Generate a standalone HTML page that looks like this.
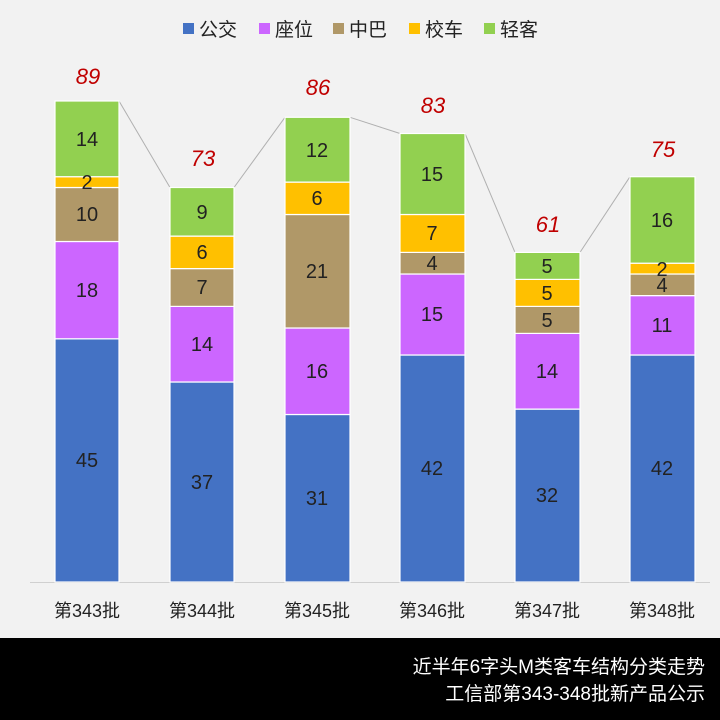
<!DOCTYPE html>
<html><head><meta charset="utf-8"><style>
body{margin:0;background:#f2f2f2}
svg{display:block}
text{font-family:"Liberation Sans","Noto Sans CJK SC",sans-serif}
</style></head><body>
<svg width="720" height="720" viewBox="0 0 720 720" xmlns="http://www.w3.org/2000/svg">
<rect width="720" height="720" fill="#f2f2f2"/>
<g font-size="19" fill="#222">
<rect x="183" y="23" width="11" height="11" fill="#4472C4"/><text x="199" y="36">公交</text>
<rect x="259" y="23" width="11" height="11" fill="#CC66FF"/><text x="275" y="36">座位</text>
<rect x="333" y="23" width="11" height="11" fill="#B09868"/><text x="349" y="36">中巴</text>
<rect x="409" y="23" width="11" height="11" fill="#FFC000"/><text x="425" y="36">校车</text>
<rect x="484" y="23" width="11" height="11" fill="#92D050"/><text x="500" y="36">轻客</text>
</g>
<polyline points="119,101 170,187.5" stroke="#b0b0b0" fill="none"/>
<polyline points="234,187.5 285,117.3" stroke="#b0b0b0" fill="none"/>
<polyline points="350,117.3 400,133.5" stroke="#b0b0b0" fill="none"/>
<polyline points="465,133.5 515,252.4" stroke="#b0b0b0" fill="none"/>
<polyline points="580,252.4 630,176.7" stroke="#b0b0b0" fill="none"/>
<line x1="30" y1="582.5" x2="710" y2="582.5" stroke="#d0d0d0"/>
<g stroke="#fff" stroke-width="1.2">
<rect x="55" y="338.8" width="64" height="243.2" fill="#4472C4"/>
<rect x="55" y="241.5" width="64" height="97.3" fill="#CC66FF"/>
<rect x="55" y="187.5" width="64" height="54" fill="#B09868"/>
<rect x="55" y="176.7" width="64" height="10.8" fill="#FFC000"/>
<rect x="55" y="101" width="64" height="75.7" fill="#92D050"/>
<rect x="170" y="382" width="64" height="200" fill="#4472C4"/>
<rect x="170" y="306.4" width="64" height="75.6" fill="#CC66FF"/>
<rect x="170" y="268.6" width="64" height="37.8" fill="#B09868"/>
<rect x="170" y="236.1" width="64" height="32.5" fill="#FFC000"/>
<rect x="170" y="187.5" width="64" height="48.6" fill="#92D050"/>
<rect x="285" y="414.5" width="65" height="167.5" fill="#4472C4"/>
<rect x="285" y="328" width="65" height="86.5" fill="#CC66FF"/>
<rect x="285" y="214.5" width="65" height="113.5" fill="#B09868"/>
<rect x="285" y="182.1" width="65" height="32.4" fill="#FFC000"/>
<rect x="285" y="117.3" width="65" height="64.8" fill="#92D050"/>
<rect x="400" y="355" width="65" height="227" fill="#4472C4"/>
<rect x="400" y="274" width="65" height="81" fill="#CC66FF"/>
<rect x="400" y="252.4" width="65" height="21.6" fill="#B09868"/>
<rect x="400" y="214.5" width="65" height="37.9" fill="#FFC000"/>
<rect x="400" y="133.5" width="65" height="81" fill="#92D050"/>
<rect x="515" y="409.1" width="65" height="172.9" fill="#4472C4"/>
<rect x="515" y="333.4" width="65" height="75.7" fill="#CC66FF"/>
<rect x="515" y="306.4" width="65" height="27" fill="#B09868"/>
<rect x="515" y="279.4" width="65" height="27" fill="#FFC000"/>
<rect x="515" y="252.4" width="65" height="27" fill="#92D050"/>
<rect x="630" y="355" width="65" height="227" fill="#4472C4"/>
<rect x="630" y="295.6" width="65" height="59.4" fill="#CC66FF"/>
<rect x="630" y="274" width="65" height="21.6" fill="#B09868"/>
<rect x="630" y="263.2" width="65" height="10.8" fill="#FFC000"/>
<rect x="630" y="176.7" width="65" height="86.5" fill="#92D050"/>
</g>
<g font-size="20" fill="#222" text-anchor="middle">
<text x="87" y="467">45</text><text x="87" y="297">18</text><text x="87" y="221">10</text><text x="87" y="189">2</text><text x="87" y="146">14</text>
<text x="202" y="489">37</text><text x="202" y="351">14</text><text x="202" y="294">7</text><text x="202" y="259">6</text><text x="202" y="219">9</text>
<text x="317" y="505">31</text><text x="317" y="378">16</text><text x="317" y="278">21</text><text x="317" y="205">6</text><text x="317" y="157">12</text>
<text x="432" y="475">42</text><text x="432" y="321">15</text><text x="432" y="270">4</text><text x="432" y="240">7</text><text x="432" y="181">15</text>
<text x="547" y="502">32</text><text x="547" y="378">14</text><text x="547" y="327">5</text><text x="547" y="300">5</text><text x="547" y="273">5</text>
<text x="662" y="475">42</text><text x="662" y="332">11</text><text x="662" y="292">4</text><text x="662" y="276">2</text><text x="662" y="227">16</text>
</g>
<g font-size="22" fill="#C00000" font-style="italic" text-anchor="middle">
<text x="88" y="84">89</text><text x="203" y="166">73</text><text x="318" y="95">86</text>
<text x="433" y="113">83</text><text x="548" y="232">61</text><text x="663" y="157">75</text>
</g>
<g font-size="18" fill="#222" text-anchor="middle">
<text x="87" y="617">第343批</text><text x="202" y="617">第344批</text><text x="317" y="617">第345批</text>
<text x="432" y="617">第346批</text><text x="547" y="617">第347批</text><text x="662" y="617">第348批</text>
</g>
<rect x="0" y="638" width="720" height="82" fill="#000"/>
<g font-size="19" fill="#fff" text-anchor="end">
<text x="705" y="673">近半年6字头M类客车结构分类走势</text>
<text x="705" y="700">工信部第343-348批新产品公示</text>
</g>
</svg>
</body></html>
